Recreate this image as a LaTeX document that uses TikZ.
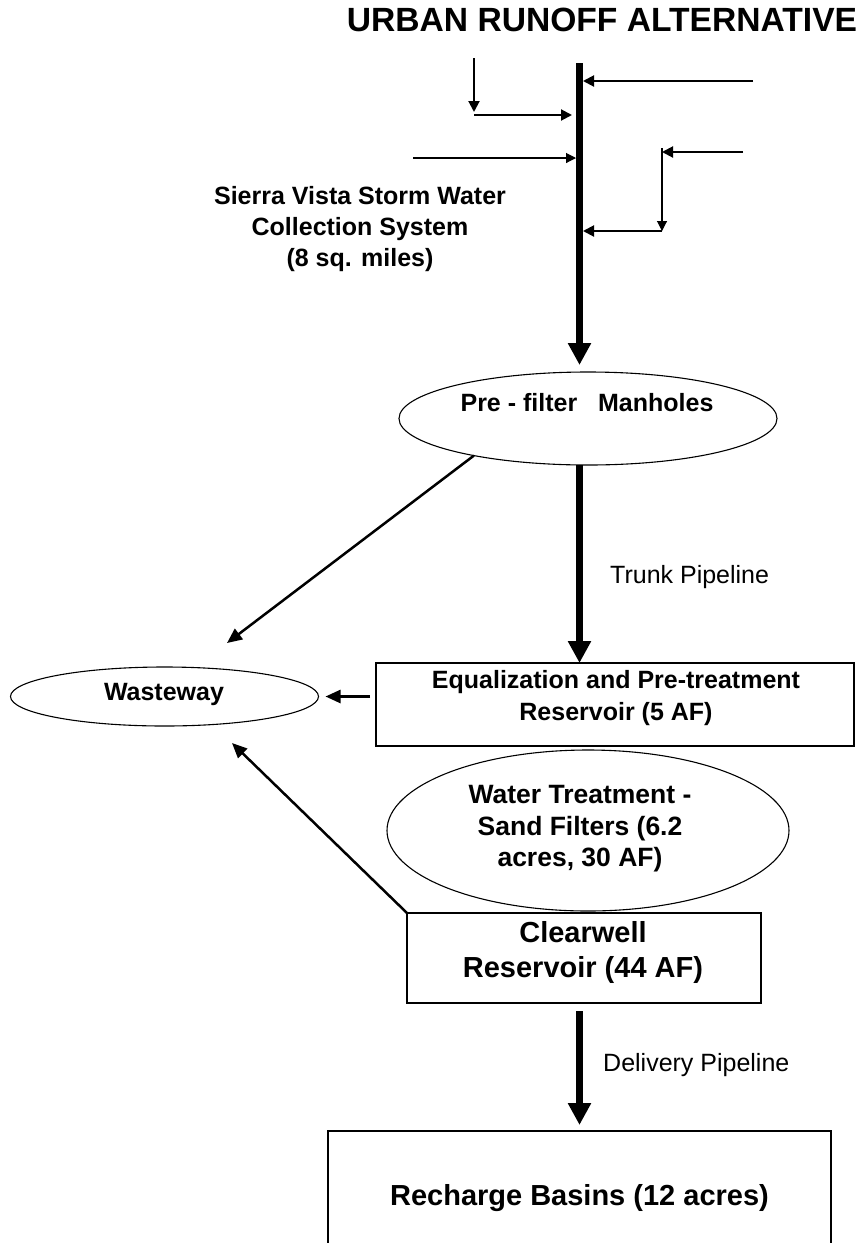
\documentclass[tikz,border=0pt]{standalone}
\usepackage{fontspec}
\setmainfont{Liberation Sans}
\usetikzlibrary{shapes.geometric,arrows.meta}
\tikzset{
  box/.style={draw, line width=1.3pt, rectangle, inner sep=0pt, outer sep=0pt},
  oval/.style={draw, line width=1.1pt, ellipse, inner sep=0pt, outer sep=0pt},
  txt/.style={font=\fontsize{25}{31}\selectfont\bfseries, align=center, inner sep=0pt},
  lbl/.style={font=\fontsize{25}{31}\selectfont, inner sep=0pt, anchor=west},
  pipe/.style={line width=7.5pt, -{Triangle[length=22pt,width=22pt]}},
  feed/.style={line width=2pt, -{Triangle[length=11pt,width=11pt]}},
  feedthin/.style={line width=1.1pt, -{Triangle[length=10pt,width=10pt]}},
  waste/.style={line width=2.5pt, -{Triangle[length=15pt,width=13pt]}},
}
\begin{document}
\begin{tikzpicture}[x=1pt,y=-1pt]
\useasboundingbox (0,0) rectangle (864,1243);
\clip (0,0) rectangle (864,1243);

% title
\node[txt, font=\fontsize{33.6}{38}\selectfont\bfseries] (title) at (602,20) {URBAN RUNOFF ALTERNATIVE};

% shapes
\node[oval, minimum width=378pt, minimum height=93pt] (pf) at (588,418.5) {};
\node[oval, minimum width=308pt, minimum height=59pt] (ws) at (164.5,696.5) {};
\node[box, minimum width=478pt, minimum height=83pt] (eq) at (615,704.5) {};
\node[oval, minimum width=402pt, minimum height=161pt] (wt) at (588,830.5) {};
\node[box, minimum width=354pt, minimum height=90pt] (cw) at (584,958) {};
\node[box, minimum width=503pt, minimum height=128pt] (rb) at (579.5,1195) {};

% texts
\node[txt] (svtext) at (360,229) {Sierra Vista Storm Water\\Collection System\\(8 sq. miles)};
\node[txt] (pftext) at (587,403) {Pre - filter\ \ \ Manholes};
\node[txt] (wstext) at (164,694) {Wasteway};
\node[txt, font=\fontsize{25}{32}\selectfont\bfseries] (eqtext) at (616,698) {Equalization and Pre-treatment\\Reservoir (5 AF)};
\node[txt, font=\fontsize{26.5}{31.5}\selectfont\bfseries] (wttext) at (580,829) {Water Treatment -\\Sand Filters (6.2\\acres, 30 AF)};
\node[txt, font=\fontsize{29}{35}\selectfont\bfseries] (cwtext) at (583,952.5) {Clearwell\\Reservoir (44 AF)};
\node[txt, font=\fontsize{29}{35}\selectfont\bfseries] (rbtext) at (579.5,1198) {Recharge Basins (12 acres)};
\node[lbl] (trunk) at (610,577) {Trunk Pipeline};
\node[lbl] (deliv) at (603,1065) {Delivery Pipeline};

% collection system
\coordinate (top) at (579.5,63);
\draw[pipe, shorten >=7pt] (top) -- (pf.north -| top);

\coordinate (a0) at (753,81);
\coordinate (a1) at (583,81);
\draw[feed] (a0) -- (a1);

\coordinate (b0) at (474,58);
\coordinate (b1) at (474,114);
\coordinate (c1) at (572,115);
\draw[feed, shorten >=2pt] (b0) -- (b1);
\draw[feed] (b1 |- c1) -- (c1);

\coordinate (d0) at (413,158);
\coordinate (d1) at (576,158);
\draw[feedthin] (d0) -- (d1);

\coordinate (e0) at (743,152);
\coordinate (e1) at (662,152);
\draw[feed] (e0) -- (e1);
\coordinate (f0) at (662,148);
\coordinate (f1) at (662,231);
\draw[feedthin] (f0) -- (f1);
\coordinate (g1) at (583,231);
\draw[feed] (f1) -- (g1);

% main flow
\draw[pipe] (pf.south -| top) -- (eq.north -| top);
\draw[pipe, shorten <=8pt, shorten >=6pt] (cw.south -| top) -- (rb.north -| top);

% to wasteway
\coordinate (wsA) at (227,643);
\coordinate (wsB) at (232,743);
\draw[waste] (pf.198) -- (wsA);
\draw[waste] (cw.north west) -- (wsB);
\draw[waste, shorten <=6pt, shorten >=7pt] (eq.west |- ws) -- (ws.east);
\end{tikzpicture}
\end{document}
